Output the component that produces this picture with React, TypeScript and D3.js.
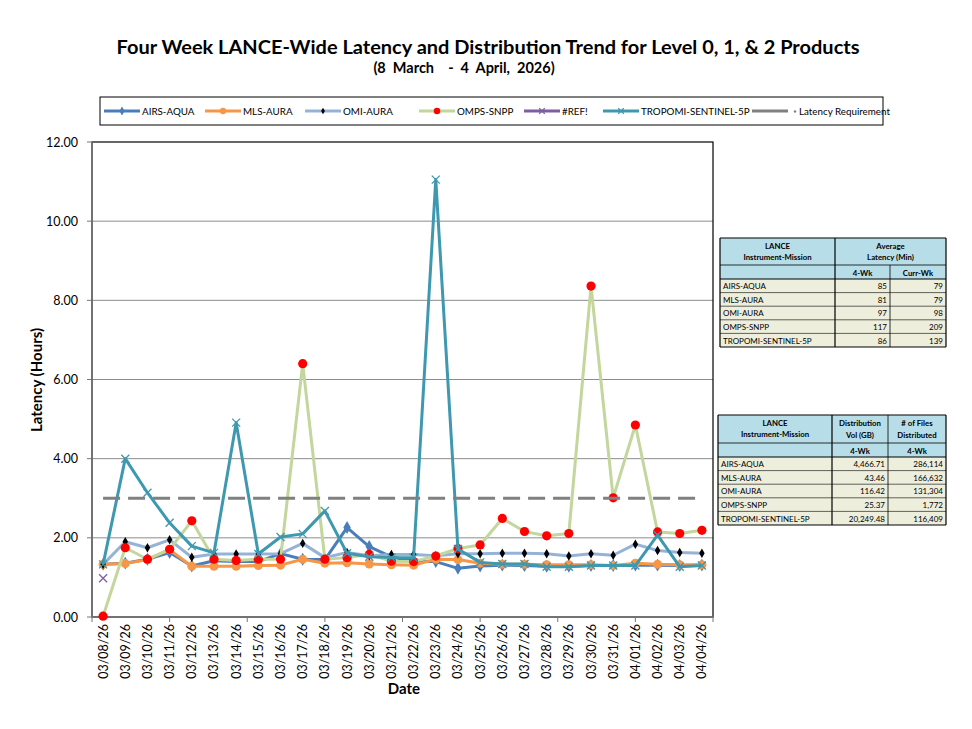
import React, { useEffect, useRef } from 'react';
import * as d3 from 'd3';

const dates = [
  '03/08/26', '03/09/26', '03/10/26', '03/11/26', '03/12/26', '03/13/26', '03/14/26',
  '03/15/26', '03/16/26', '03/17/26', '03/18/26', '03/19/26', '03/20/26', '03/21/26',
  '03/22/26', '03/23/26', '03/24/26', '03/25/26', '03/26/26', '03/27/26', '03/28/26',
  '03/29/26', '03/30/26', '03/31/26', '04/01/26', '04/02/26', '04/03/26', '04/04/26',
];

const airsAqua = [1.33, 1.36, 1.46, 1.63, 1.29, 1.42, 1.40, 1.40, 1.60, 1.46, 1.45, 2.26, 1.78, 1.52,
  1.40, 1.40, 1.23, 1.29, 1.31, 1.30, 1.28, 1.28, 1.30, 1.30, 1.31, 1.31, 1.30, 1.31];
const mlsAura = [1.33, 1.35, 1.45, 1.70, 1.28, 1.28, 1.28, 1.30, 1.31, 1.46, 1.36, 1.37, 1.34, 1.32,
  1.31, 1.46, 1.45, 1.36, 1.33, 1.33, 1.32, 1.32, 1.32, 1.30, 1.36, 1.33, 1.32, 1.32];
const omiAura = [1.33, 1.90, 1.75, 1.95, 1.51, 1.59, 1.59, 1.59, 1.60, 1.86, 1.50, 1.63, 1.55, 1.58,
  1.58, 1.55, 1.60, 1.60, 1.61, 1.61, 1.60, 1.54, 1.60, 1.56, 1.84, 1.68, 1.63, 1.61];
const ompsSnpp = [0.02, 1.75, 1.46, 1.71, 2.43, 1.46, 1.43, 1.46, 1.46, 6.40, 1.46, 1.50, 1.58, 1.41,
  1.40, 1.54, 1.73, 1.82, 2.49, 2.16, 2.05, 2.11, 8.36, 3.01, 4.85, 2.15, 2.11, 2.19];
const refErr: (number | null)[] = [0.98];
const tropomi = [1.33, 4.00, 3.14, 2.38, 1.79, 1.62, 4.91, 1.59, 2.02, 2.10, 2.68, 1.61, 1.52, 1.50,
  1.50, 11.05, 1.72, 1.38, 1.34, 1.34, 1.27, 1.27, 1.30, 1.30, 1.30, 2.07, 1.27, 1.30];
const latencyRequirement = 3.0;

const yTicks = [0, 2, 4, 6, 8, 10, 12];

const missions = ['AIRS-AQUA', 'MLS-AURA', 'OMI-AURA', 'OMPS-SNPP', 'TROPOMI-SENTINEL-5P'];
const avgLatency4Wk = [85, 81, 97, 117, 86];
const avgLatencyCurrWk = [79, 79, 98, 209, 139];
const distVolGB = ['4,466.71', '43.46', '116.42', '25.37', '20,249.48'];
const filesDistributed = ['286,114', '166,632', '131,304', '1,772', '116,409'];

type Marker = 'diamond' | 'circle' | 'smallDiamond' | 'dot' | 'x' | 'none';

const series: { name: string; values: (number | null)[]; color: string; marker: Marker; markerColor: string; legendX: number }[] = [
  { name: 'AIRS-AQUA', values: airsAqua, color: '#4A7EBB', marker: 'diamond', markerColor: '#4A7EBB', legendX: 104 },
  { name: 'MLS-AURA', values: mlsAura, color: '#F79646', marker: 'circle', markerColor: '#F79646', legendX: 205 },
  { name: 'OMI-AURA', values: omiAura, color: '#95B3D7', marker: 'smallDiamond', markerColor: '#000000', legendX: 305 },
  { name: 'OMPS-SNPP', values: ompsSnpp, color: '#C3D69B', marker: 'dot', markerColor: '#FF0000', legendX: 419 },
  { name: '#REF!', values: refErr, color: '#7D5FA0', marker: 'x', markerColor: '#7D5FA0', legendX: 524 },
  { name: 'TROPOMI-SENTINEL-5P', values: tropomi, color: '#3E98B0', marker: 'x', markerColor: '#3E98B0', legendX: 603 },
];

const FONT = 'Lato, "Open Sans", sans-serif';

function drawMarker(g: d3.Selection<SVGGElement, unknown, null, undefined>, type: Marker, cx: number, cy: number, color: string, scale = 1) {
  if (type === 'diamond') {
    g.append('path').attr('d', d3.symbol(d3.symbolDiamond, 48 * scale * scale)()).attr('transform', `translate(${cx},${cy})`).attr('fill', color);
  } else if (type === 'smallDiamond') {
    g.append('path').attr('d', d3.symbol(d3.symbolDiamond, 26 * scale * scale)()).attr('transform', `translate(${cx},${cy})`).attr('fill', color);
  } else if (type === 'circle') {
    g.append('circle').attr('cx', cx).attr('cy', cy).attr('r', 4.5 * scale).attr('fill', color);
  } else if (type === 'dot') {
    g.append('circle').attr('cx', cx).attr('cy', cy).attr('r', 4.6 * scale).attr('fill', color);
  } else if (type === 'x') {
    const r = 4 * scale;
    g.append('path').attr('d', `M${cx - r},${cy - r}L${cx + r},${cy + r}M${cx - r},${cy + r}L${cx + r},${cy - r}`)
      .attr('stroke', color).attr('stroke-width', 1.3).attr('fill', 'none');
  }
}

export default function App() {
  const svgRef = useRef<SVGSVGElement>(null);

  useEffect(() => {
    if (!svgRef.current) return;
    const svg = d3.select(svgRef.current);
    svg.selectAll('*').remove();

    const left = 92, right = 713, top = 142, bottom = 617;

    const x = d3.scaleBand().domain(dates).range([left, right]).padding(0);
    const cx = (d: string) => (x(d) as number) + x.bandwidth() / 2;
    const y = d3.scaleLinear().domain([0, 12]).range([bottom, top]);

    // Titles
    svg.append('text').attr('x', 488).attr('y', 54).attr('text-anchor', 'middle')
      .attr('font-family', FONT).attr('font-weight', 700).attr('font-size', 18.5)
      .attr('textLength', 743).attr('lengthAdjust', 'spacingAndGlyphs')
      .text('Four Week LANCE-Wide Latency and Distribution Trend for Level 0, 1, & 2 Products');
    svg.append('text').attr('x', 464).attr('y', 73).attr('text-anchor', 'middle')
      .attr('font-family', FONT).attr('font-weight', 700).attr('font-size', 14.5)
      .attr('xml:space', 'preserve')
      .text('(8  March    -  4  April,  2026)');

    // Legend
    const leg = svg.append('g');
    leg.append('rect').attr('x', 100).attr('y', 97).attr('width', 783).attr('height', 28)
      .attr('fill', 'white').attr('stroke', '#000').attr('stroke-width', 1);
    series.forEach(s => {
      leg.append('line').attr('x1', s.legendX).attr('x2', s.legendX + 36).attr('y1', 111).attr('y2', 111)
        .attr('stroke', s.color).attr('stroke-width', 3);
      const g = leg.append('g');
      drawMarker(g, s.marker, s.legendX + 18, 111, s.markerColor, 0.7);
      leg.append('text').attr('x', s.legendX + 38).attr('y', 115).attr('font-family', FONT)
        .attr('font-size', 9.8).text(s.name);
    });
    leg.append('line').attr('x1', 752).attr('x2', 788).attr('y1', 111).attr('y2', 111)
      .attr('stroke', '#808080').attr('stroke-width', 3);
    leg.append('circle').attr('cx', 795).attr('cy', 111.5).attr('r', 1.2).attr('fill', '#808080');
    leg.append('text').attr('x', 799).attr('y', 115).attr('font-family', FONT).attr('font-size', 9.8)
      .text('Latency Requirement');

    // Gridlines
    svg.append('g').selectAll('line').data(yTicks.filter(t => t > 0 && t < 12)).join('line')
      .attr('x1', left).attr('x2', right).attr('y1', d => y(d)).attr('y2', d => y(d))
      .attr('stroke', '#8C8C8C').attr('stroke-width', 1);

    // Plot border
    svg.append('rect').attr('x', left).attr('y', top).attr('width', right - left).attr('height', bottom - top)
      .attr('fill', 'none').attr('stroke', '#000').attr('stroke-width', 1.2);

    // Y axis
    const yAxis = svg.append('g');
    yAxis.append('line').attr('x1', left).attr('x2', left).attr('y1', top).attr('y2', bottom)
      .attr('stroke', '#777').attr('stroke-width', 1.5);
    yTicks.forEach(t => {
      yAxis.append('line').attr('x1', left - 5).attr('x2', left).attr('y1', y(t)).attr('y2', y(t))
        .attr('stroke', '#777').attr('stroke-width', 1);
      yAxis.append('text').attr('x', 78).attr('y', y(t) + 4.5).attr('text-anchor', 'end')
        .attr('font-family', FONT).attr('font-size', 12.5).text(d3.format('.2f')(t));
    });
    svg.append('text').attr('transform', `translate(42,380) rotate(-90)`).attr('text-anchor', 'middle')
      .attr('font-family', FONT).attr('font-weight', 700).attr('font-size', 15).text('Latency (Hours)');

    // X axis
    const xAxis = svg.append('g');
    xAxis.append('line').attr('x1', left).attr('x2', right).attr('y1', bottom).attr('y2', bottom)
      .attr('stroke', '#777').attr('stroke-width', 1.5);
    const tickStep = x.bandwidth() * 3.5;
    d3.range(0, 9).forEach(k => {
      const tx = left + k * tickStep;
      xAxis.append('line').attr('x1', tx).attr('x2', tx).attr('y1', bottom).attr('y2', bottom + 5)
        .attr('stroke', '#777').attr('stroke-width', 1);
    });
    dates.forEach(d => {
      xAxis.append('text').attr('transform', `translate(${cx(d) + 4.5},${bottom + 7}) rotate(-90)`)
        .attr('text-anchor', 'end').attr('font-family', FONT).attr('font-size', 12.5).text(d);
    });
    svg.append('text').attr('x', 404).attr('y', 694).attr('text-anchor', 'middle')
      .attr('font-family', FONT).attr('font-weight', 700).attr('font-size', 15).text('Date');

    // Series
    const line = d3.line<number | null>()
      .defined(v => v !== null && v !== undefined)
      .x((_, i) => cx(dates[i]))
      .y(v => y(v as number));
    const lines = svg.append('g');
    series.forEach(s => {
      lines.append('path').datum(s.values).attr('d', line).attr('fill', 'none')
        .attr('stroke', s.color).attr('stroke-width', 3).attr('stroke-linejoin', 'round');
      const g = lines.append('g');
      s.values.forEach((v, i) => {
        if (v === null || v === undefined) return;
        drawMarker(g, s.marker, cx(dates[i]), y(v), s.markerColor);
      });
    });

    // Latency requirement
    svg.append('line').attr('x1', cx(dates[0])).attr('x2', cx(dates[dates.length - 1]))
      .attr('y1', y(latencyRequirement)).attr('y2', y(latencyRequirement))
      .attr('stroke', '#808080').attr('stroke-width', 3).attr('stroke-dasharray', '17,8');

    // Tables
    const blue = '#B7DEE8';
    const cream = '#EDEEDC';
    const drawTable = (cols: number[], y0: number, h1: number, h2: number, rowH: number,
      head: string[][], sub: string[], c1: (string | number)[], c2: (string | number)[]) => {
      const t = svg.append('g').attr('font-family', FONT);
      const yH2 = y0 + h1;
      const yD = yH2 + h2;
      const yEnd = yD + rowH * missions.length;
      t.append('rect').attr('x', cols[0]).attr('y', y0).attr('width', cols[3] - cols[0]).attr('height', h1 + h2)
        .attr('fill', blue);
      t.append('rect').attr('x', cols[0]).attr('y', yD).attr('width', cols[3] - cols[0]).attr('height', yEnd - yD)
        .attr('fill', cream);
      const hl = (yy: number, x1: number, x2: number, w = 0.8) => t.append('line').attr('x1', x1).attr('x2', x2)
        .attr('y1', yy).attr('y2', yy).attr('stroke', '#000').attr('stroke-width', w);
      const vl = (xx: number, y1: number, y2: number, w = 0.8) => t.append('line').attr('x1', xx).attr('x2', xx)
        .attr('y1', y1).attr('y2', y2).attr('stroke', '#000').attr('stroke-width', w);
      hl(y0, cols[0], cols[3], 1.2);
      hl(yH2, cols[0], cols[3], 0.8);
      hl(yD, cols[0], cols[3], 1.2);
      missions.forEach((_, i) => { if (i > 0) hl(yD + rowH * i, cols[0], cols[3], 0.6); });
      hl(yEnd, cols[0], cols[3], 1.2);
      vl(cols[0], y0, yEnd, 1.2);
      vl(cols[1], y0, yEnd, 1.2);
      vl(cols[2], head.length === 2 ? y0 : yH2, yEnd, 0.8);
      vl(cols[3], y0, yEnd, 1.2);
      t.append('text').attr('x', (cols[0] + cols[1]) / 2).attr('y', y0 + 11).attr('text-anchor', 'middle')
        .attr('font-size', 7.8).attr('font-weight', 700).text('LANCE');
      t.append('text').attr('x', (cols[0] + cols[1]) / 2).attr('y', y0 + 22).attr('text-anchor', 'middle')
        .attr('font-size', 7.8).attr('font-weight', 700).text('Instrument-Mission');
      if (head.length === 1) {
        t.append('text').attr('x', (cols[1] + cols[3]) / 2).attr('y', y0 + 11).attr('text-anchor', 'middle')
          .attr('font-size', 7.8).attr('font-weight', 700).text(head[0][0]);
        t.append('text').attr('x', (cols[1] + cols[3]) / 2).attr('y', y0 + 22).attr('text-anchor', 'middle')
          .attr('font-size', 7.8).attr('font-weight', 700).text(head[0][1]);
      } else {
        head.forEach((hd, j) => {
          t.append('text').attr('x', (cols[j + 1] + cols[j + 2]) / 2).attr('y', y0 + 11).attr('text-anchor', 'middle')
            .attr('font-size', 7.8).attr('font-weight', 700).text(hd[0]);
          t.append('text').attr('x', (cols[j + 1] + cols[j + 2]) / 2).attr('y', y0 + 23).attr('text-anchor', 'middle')
            .attr('font-size', 7.8).attr('font-weight', 700).text(hd[1]);
        });
      }
      sub.forEach((s, j) => {
        t.append('text').attr('x', (cols[j + 1] + cols[j + 2]) / 2).attr('y', yH2 + h2 - 3.5).attr('text-anchor', 'middle')
          .attr('font-size', 7.8).attr('font-weight', 700).text(s);
      });
      missions.forEach((m, i) => {
        const ty = yD + rowH * (i + 1) - 3.5;
        t.append('text').attr('x', cols[0] + 3).attr('y', ty).attr('font-size', 8).text(m);
        t.append('text').attr('x', cols[2] - 3).attr('y', ty).attr('text-anchor', 'end').attr('font-size', 8).text(String(c1[i]));
        t.append('text').attr('x', cols[3] - 3).attr('y', ty).attr('text-anchor', 'end').attr('font-size', 8).text(String(c2[i]));
      });
    };

    drawTable([720, 835, 890, 946], 238, 27, 14, 13.6,
      [['Average', 'Latency (Min)']], ['4-Wk', 'Curr-Wk'], avgLatency4Wk, avgLatencyCurrWk);
    drawTable([718, 832, 888, 946], 415, 28, 14, 13.6,
      [['Distribution', 'Vol (GB)'], ['# of Files', 'Distributed']], ['4-Wk', '4-Wk'], distVolGB, filesDistributed);
  }, []);

  return (
    <svg ref={svgRef} width={972} height={729}
      style={{ position: 'absolute', left: 0, top: 0, background: 'white' }} />
  );
}
